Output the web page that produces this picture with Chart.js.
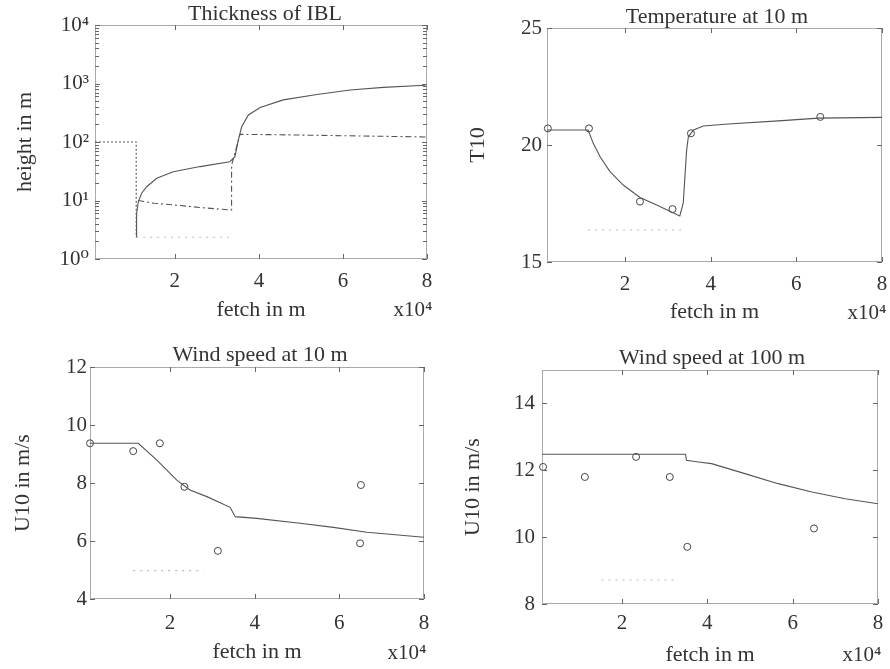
<!DOCTYPE html>
<html><head><meta charset="utf-8">
<script src="https://cdn.jsdelivr.net/npm/chart.js@4.4.1/dist/chart.umd.min.js"></script>
<style>
html,body{margin:0;padding:0;background:#fff;}
body{width:890px;height:669px;position:relative;overflow:hidden;}
canvas{position:absolute;}
</style></head><body>
<canvas id="c1" width="445" height="325" style="left:0;top:0"></canvas>
<canvas id="c2" width="445" height="325" style="left:445px;top:0"></canvas>
<canvas id="c3" width="445" height="344" style="left:0;top:325px"></canvas>
<canvas id="c4" width="445" height="344" style="left:445px;top:325px"></canvas>
<script>
// ---------- DATA ----------
const xTickValues = [20000, 40000, 60000, 80000];
const xTickLabels = ['2', '4', '6', '8'];

// Panel 1: Thickness of IBL (log scale)
const iblTickValues = [1, 10, 100, 1000, 10000];
const iblTickLabels = ['10\u2070', '10\u00B9', '10\u00B2', '10\u00B3', '10\u2074'];
const ibl_fetch  = [10760, 10900, 11300, 12100, 13300, 15700, 19600, 26000, 33100, 34300, 35100, 35900, 37500, 40300, 45800, 53800, 61700, 69600, 79600];
const ibl_height = [2.38, 6.0, 9.5, 13.3, 17.2, 24, 31, 38, 46, 56, 108, 182, 290, 390, 525, 650, 775, 860, 935];
const step_fetch  = [1000, 10800, 10800];
const step_height = [100, 100, 2.35];
const base_fetch  = [10800, 32900];
const base_height = [2.35, 2.35];
const low_fetch  = [11300, 15000, 19600, 26000, 33000, 33500, 33500, 35500, 45000, 60000, 80000];
const low_height = [10, 9.0, 8.4, 7.6, 6.9, 6.9, 40, 135, 133, 128, 122];

// Panel 2: Temperature at 10 m
const t10TickValues = [15, 20, 25];
const t10_fetch = [1800, 11400, 12600, 14200, 16500, 19600, 23500, 27400, 32800, 33600, 34000, 34400, 34800, 36000, 38300, 44100, 55800, 65200, 80000];
const t10_value = [20.64, 20.64, 20.07, 19.5, 18.86, 18.29, 17.76, 17.44, 16.97, 17.51, 18.65, 19.79, 20.35, 20.64, 20.81, 20.9, 21.03, 21.15, 21.18];
const t10_obs_fetch = [2000, 11600, 23500, 31100, 35400, 65600];
const t10_obs_value = [20.71, 20.71, 17.58, 17.26, 20.5, 21.2];
const t10_ref_fetch = [11400, 33200];
const t10_ref_value = [16.37, 16.37];

// Panel 3: Wind speed at 10 m
const u10TickValues = [4, 6, 8, 10, 12];
const u10_fetch = [1100, 12500, 16900, 21600, 24700, 28700, 34200, 35400, 40500, 50700, 58600, 66500, 80000];
const u10_value = [9.37, 9.37, 8.79, 8.10, 7.76, 7.53, 7.16, 6.84, 6.78, 6.61, 6.47, 6.3, 6.13];
const u10_obs_fetch = [1100, 11300, 17600, 23400, 31300, 65100, 64900];
const u10_obs_value = [9.37, 9.1, 9.37, 7.87, 5.66, 7.93, 5.92];
const u10_ref_fetch = [11300, 27900];
const u10_ref_value = [4.98, 4.98];

// Panel 4: Wind speed at 100 m
const u100TickValues = [8, 10, 12, 14];
const u100_fetch = [1250, 34900, 35100, 37900, 41000, 48800, 56600, 64500, 72300, 80000];
const u100_value = [12.48, 12.48, 12.3, 12.25, 12.2, 11.9, 11.6, 11.35, 11.15, 11.0];
const u100_obs_fetch = [1500, 11300, 23300, 31200, 35300, 65000];
const u100_obs_value = [12.1, 11.8, 12.4, 11.8, 9.71, 10.26];
const u100_ref_fetch = [15200, 32800];
const u100_ref_value = [8.72, 8.72];

// ---------- HELPERS ----------
const FONT = "'Liberation Serif', 'DejaVu Serif', serif";
const TXT = '#333';
function pts(xs, ys) { return xs.map((x, i) => ({ x: x, y: ys[i] })); }
function lineDS(xs, ys, color, dash) {
  return { data: pts(xs, ys), showLine: true, borderColor: color, borderWidth: 1.1,
           borderDash: dash || [], pointRadius: 0, backgroundColor: color, tension: 0 };
}
function circDS(xs, ys) {
  return { data: pts(xs, ys), showLine: false, pointRadius: 3.5, pointStyle: 'circle',
           borderColor: '#444', borderWidth: 1, backgroundColor: 'rgba(255,255,255,0)', clip: false };
}

const decor = {
  id: 'decor',
  afterDraw(chart, args, o) {
    const ctx = chart.ctx, a = chart.chartArea;
    const xs = chart.scales.x, ys = chart.scales.y;
    ctx.save();
    ctx.strokeStyle = '#555'; ctx.lineWidth = 1; ctx.setLineDash([1, 1]);
    ctx.strokeRect(a.left + 0.5, a.top + 0.5, a.right - a.left - 1, a.bottom - a.top - 1);
    ctx.setLineDash([]);
    ctx.strokeStyle = '#666';
    ctx.beginPath();
    o.xt.forEach(v => {
      const p = Math.round(xs.getPixelForValue(v)) + 0.5;
      ctx.moveTo(p, a.bottom); ctx.lineTo(p, a.bottom - 5);
      ctx.moveTo(p, a.top); ctx.lineTo(p, a.top + 5);
    });
    o.yt.forEach(v => {
      const p = Math.round(ys.getPixelForValue(v)) + 0.5;
      ctx.moveTo(a.left, p); ctx.lineTo(a.left + 5, p);
      ctx.moveTo(a.right, p); ctx.lineTo(a.right - 5, p);
    });
    if (o.log) {
      for (let d = 1; d < 10000; d *= 10) {
        for (let m = 2; m <= 9; m++) {
          const p = Math.round(ys.getPixelForValue(d * m)) + 0.5;
          ctx.moveTo(a.left, p); ctx.lineTo(a.left + 4, p);
          ctx.moveTo(a.right, p); ctx.lineTo(a.right - 4, p);
        }
      }
    }
    ctx.stroke();
    ctx.fillStyle = TXT;
    ctx.textAlign = 'center'; ctx.textBaseline = 'middle';
    ctx.font = '22px ' + FONT;
    ctx.fillText(o.title, o.tx, o.ty);
    ctx.font = '21px ' + FONT;
    ctx.fillText('x10\u2074', o.ex, o.ey);
    ctx.restore();
  }
};

function makeChart(id, c) {
  const W = c.W, H = c.H, A = c.area;
  new Chart(document.getElementById(id), {
    type: 'scatter',
    data: { datasets: c.datasets },
    plugins: [decor],
    options: {
      responsive: false, animation: false,
      layout: { padding: { left: 0, top: A.t, right: W - A.r, bottom: 0 } },
      plugins: { legend: { display: false }, tooltip: { enabled: false }, title: { display: false },
        decor: { xt: xTickValues, yt: c.yTicks, log: c.log, title: c.title, tx: c.tx, ty: c.ty, ex: c.ex, ey: c.ey } },
      scales: {
        x: {
          type: 'linear', min: c.xMin, max: 80000,
          afterBuildTicks: s => { s.ticks = xTickValues.map(v => ({ value: v })); },
          afterFit: s => { s.height = H - A.b; s.paddingLeft = 0; s.paddingRight = 0; },
          ticks: { callback: (v, i) => xTickLabels[i], font: { family: FONT, size: 21 }, color: TXT,
                   padding: c.xtp, maxRotation: 0, autoSkip: false },
          grid: { display: false, drawTicks: false }, border: { display: false },
          title: { display: true, text: 'fetch in m', font: { family: FONT, size: 22 }, color: TXT,
                   padding: { top: 0, bottom: c.xlp } }
        },
        y: {
          type: c.log ? 'logarithmic' : 'linear', min: c.yMin, max: c.yMax,
          afterBuildTicks: s => { s.ticks = c.yTicks.map(v => ({ value: v })); },
          afterFit: s => { s.width = A.l; s.paddingTop = 0; s.paddingBottom = 0; },
          ticks: { callback: (v, i) => c.yLabels[i], font: { family: FONT, size: 21 }, color: TXT,
                   padding: c.ytp, autoSkip: false },
          grid: { display: false, drawTicks: false }, border: { display: false },
          title: { display: true, text: c.ylabel, font: { family: FONT, size: 22 }, color: TXT,
                   padding: { top: c.ylp, bottom: 0 } }
        }
      }
    }
  });
}

makeChart('c1', {
  W: 445, H: 325, area: { l: 95, t: 25, r: 427, b: 259 }, xMin: 1000, log: true, yMin: 1, yMax: 10000,
  yTicks: iblTickValues, yLabels: iblTickLabels, ylabel: 'height in m',
  title: 'Thickness of IBL', tx: 265, ty: 14, ex: 413, ey: 310, xtp: 10, ytp: 6, xlp: 2, ylp: 12,
  datasets: [
    lineDS(step_fetch, step_height, '#555', [2, 2]),
    lineDS(base_fetch, base_height, '#bbb', [2, 5]),
    lineDS(low_fetch, low_height, '#555', [6, 3, 2, 3]),
    lineDS(ibl_fetch, ibl_height, '#555')
  ]
});
makeChart('c2', {
  W: 445, H: 325, area: { l: 102, t: 28, r: 437, b: 262 }, xMin: 1800, log: false, yMin: 15, yMax: 25,
  yTicks: t10TickValues, yLabels: t10TickValues.map(String), ylabel: 'T10',
  title: 'Temperature at 10 m', tx: 272, ty: 17, ex: 422, ey: 313, xtp: 10, ytp: 5, xlp: 0, ylp: 20,
  datasets: [
    lineDS(t10_ref_fetch, t10_ref_value, '#bbb', [2, 5]),
    lineDS(t10_fetch, t10_value, '#555'),
    circDS(t10_obs_fetch, t10_obs_value)
  ]
});
makeChart('c3', {
  W: 445, H: 344, area: { l: 90, t: 42, r: 424, b: 274 }, xMin: 1100, log: false, yMin: 4, yMax: 12,
  yTicks: u10TickValues, yLabels: u10TickValues.map(String), ylabel: 'U10 in m/s',
  title: 'Wind speed at 10 m', tx: 260, ty: 30, ex: 407, ey: 328, xtp: 12, ytp: 3, xlp: 4, ylp: 10,
  datasets: [
    lineDS(u10_ref_fetch, u10_ref_value, '#bbb', [2, 5]),
    lineDS(u10_fetch, u10_value, '#555'),
    circDS(u10_obs_fetch, u10_obs_value)
  ]
});
makeChart('c4', {
  W: 445, H: 344, area: { l: 97, t: 45, r: 433, b: 279 }, xMin: 1250, log: false, yMin: 8, yMax: 15,
  yTicks: u100TickValues, yLabels: u100TickValues.map(String), ylabel: 'U10 in m/s',
  title: 'Wind speed at 100 m', tx: 267, ty: 33, ex: 417, ey: 330, xtp: 7, ytp: 7, xlp: 1, ylp: 15,
  datasets: [
    lineDS(u100_ref_fetch, u100_ref_value, '#bbb', [2, 5]),
    lineDS(u100_fetch, u100_value, '#555'),
    circDS(u100_obs_fetch, u100_obs_value)
  ]
});
</script>
</body></html>
